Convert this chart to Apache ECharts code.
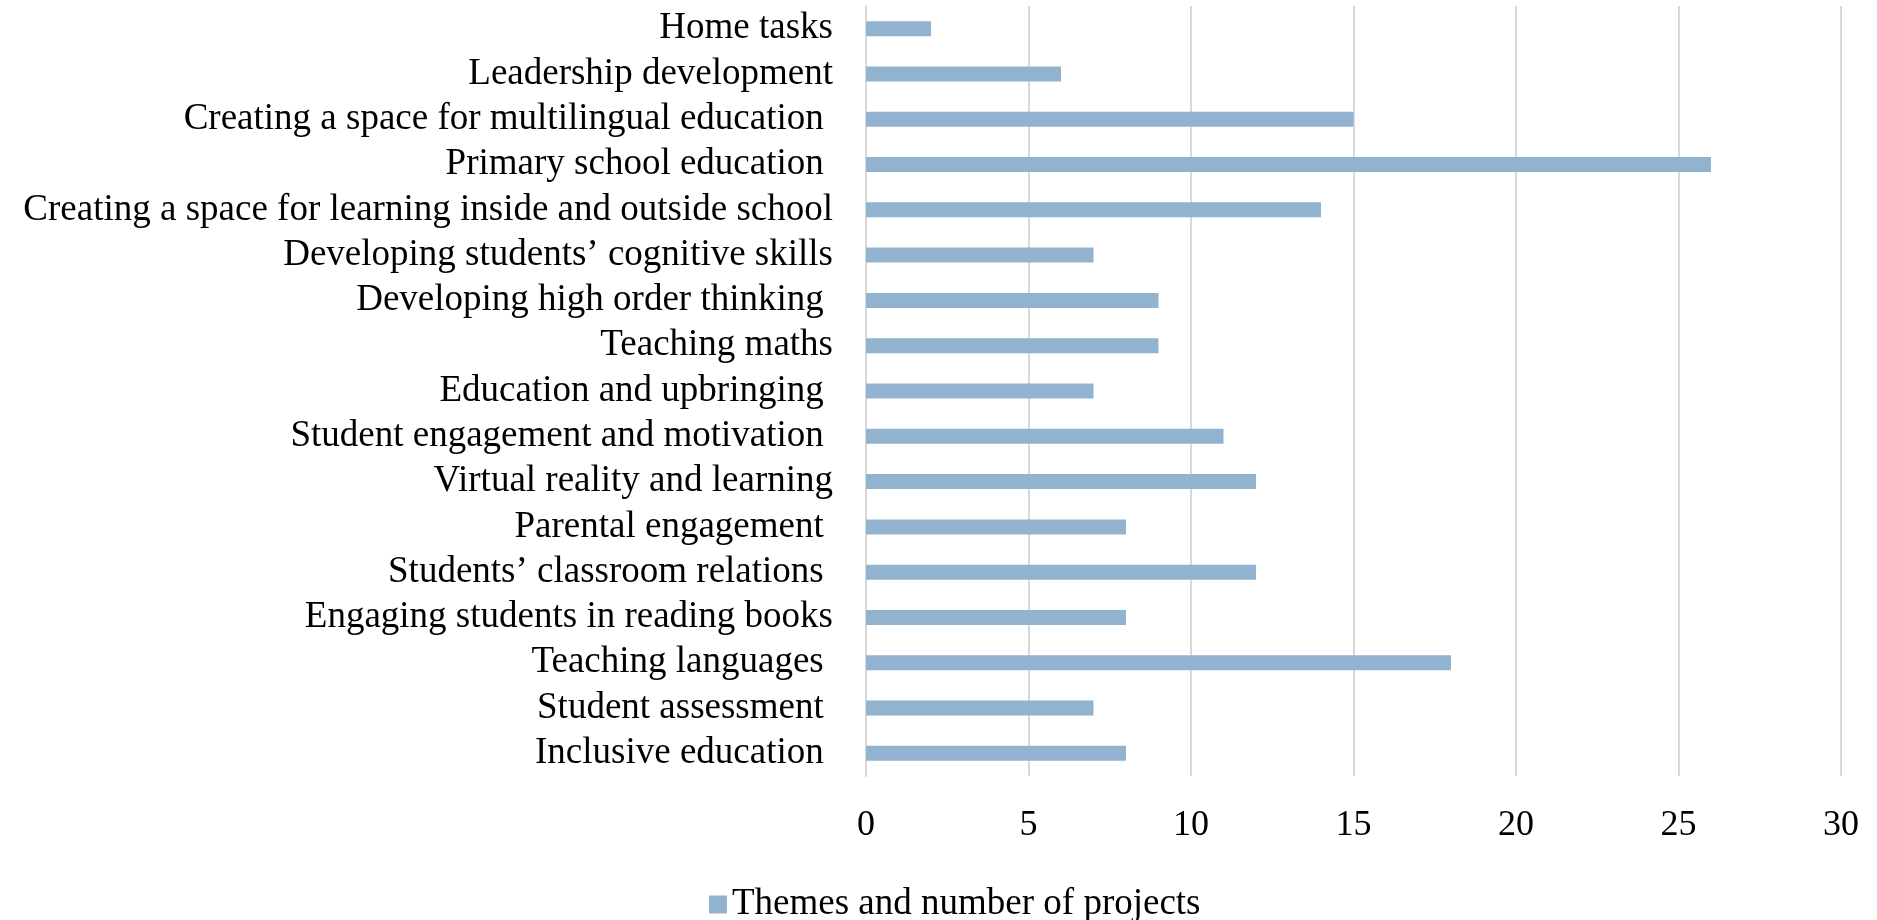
<!DOCTYPE html>
<html>
<head>
<meta charset="utf-8">
<script src="https://cdn.jsdelivr.net/npm/echarts@6/dist/echarts.min.js"></script>
<style>
html,body{margin:0;padding:0;background:#fff;}
#chart{width:1877px;height:920px;}
</style>
</head>
<body>
<div id="chart"></div>
<script>
const categories = [
  "Home tasks",
  "Leadership development",
  "Creating a space for multilingual education ",
  "Primary school education ",
  "Creating a space for learning inside and outside school",
  "Developing students\u2019 cognitive skills",
  "Developing high order thinking ",
  "Teaching maths",
  "Education and upbringing ",
  "Student engagement and motivation ",
  "Virtual reality and learning",
  "Parental engagement ",
  "Students\u2019 classroom relations ",
  "Engaging students in reading books",
  "Teaching languages ",
  "Student assessment ",
  "Inclusive education "
];
const projectCounts = [2, 6, 15, 26, 14, 7, 9, 9, 7, 11, 12, 8, 12, 8, 18, 7, 8];
const seriesName = "Themes and number of projects";
const xTicks = { min: 0, max: 30, interval: 5 };

const font = "'Liberation Serif', 'Times New Roman', serif";
const chart = echarts.init(document.getElementById('chart'), null, {renderer: 'canvas'});
chart.setOption({
  animation: false,
  backgroundColor: '#ffffff',
  grid: { left: 866, right: 36, top: 6, bottom: 144, containLabel: false },
  legend: {
    data: [seriesName],
    left: 709,
    top: 886,
    padding: 0,
    itemWidth: 18,
    itemHeight: 18,
    itemGap: 10,
    textStyle: { fontFamily: font, fontSize: 37, color: '#000' },
    icon: 'rect'
  },
  xAxis: {
    type: 'value',
    min: xTicks.min,
    max: xTicks.max,
    interval: xTicks.interval,
    axisLine: { show: false },
    axisTick: { show: false },
    splitLine: { show: true, lineStyle: { color: '#d9d9d9', width: 2 } },
    axisLabel: { fontFamily: font, fontSize: 36, color: '#000', margin: 32 }
  },
  yAxis: {
    type: 'category',
    data: categories,
    inverse: true,
    axisLine: { show: true, lineStyle: { color: '#d9d9d9', width: 2 } },
    axisTick: { show: false },
    axisLabel: { interval: 0, fontFamily: font, fontSize: 37, color: '#000', margin: 33 }
  },
  series: [{
    name: seriesName,
    type: 'bar',
    data: projectCounts,
    barWidth: 15,
    itemStyle: { color: '#92b3d0' }
  }]
});
</script>
</body>
</html>
